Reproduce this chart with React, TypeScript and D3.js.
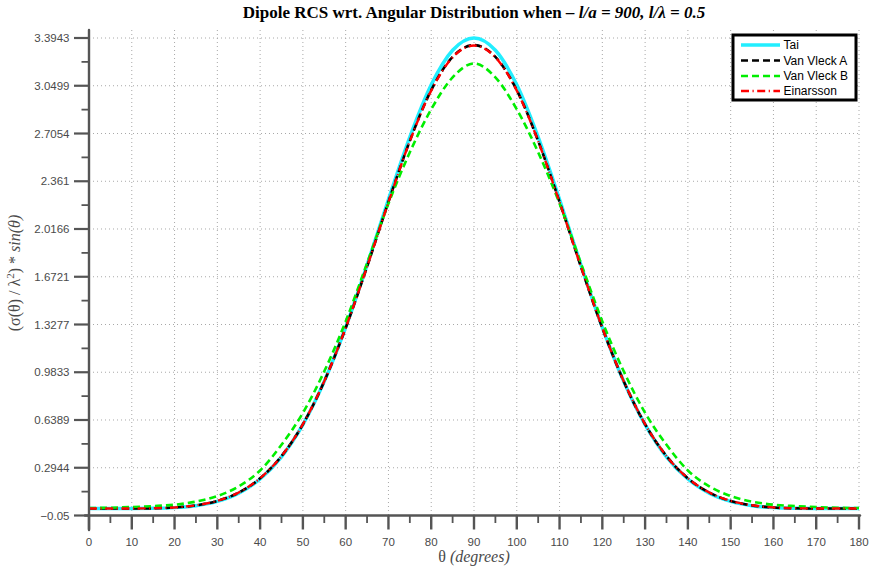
import React from "react";
import * as d3 from "d3";

// ---------- data ----------
const thetaDeg = [0, 5, 10, 15, 20, 25, 30, 35, 40, 45, 50, 55, 60, 65, 70, 75, 80, 85, 90, 95, 100, 105, 110, 115, 120, 125, 130, 135, 140, 145, 150, 155, 160, 165, 170, 175, 180];

const taiValues = [0, 0, 0.0002, 0.0016, 0.0068, 0.0208, 0.0517, 0.111, 0.213, 0.3732, 0.605, 0.9174, 1.3065, 1.7561, 2.2297, 2.6793, 3.0561, 3.3057, 3.3943, 3.3057, 3.0561, 2.6793, 2.2297, 1.7561, 1.3065, 0.9174, 0.605, 0.3732, 0.213, 0.111, 0.0517, 0.0208, 0.0068, 0.0016, 0.0002, 0, 0];

const vanVleckAValues = [0, 0, 0.0003, 0.002, 0.008, 0.023, 0.055, 0.115, 0.218, 0.378, 0.608, 0.918, 1.303, 1.745, 2.212, 2.652, 3.018, 3.258, 3.343, 3.258, 3.018, 2.652, 2.212, 1.745, 1.303, 0.918, 0.608, 0.378, 0.218, 0.115, 0.055, 0.023, 0.008, 0.002, 0.0003, 0, 0];

const vanVleckBValues = [0.004, 0.006, 0.011, 0.018, 0.028, 0.05, 0.09, 0.16, 0.275, 0.46, 0.69, 0.99, 1.35, 1.77, 2.2, 2.57, 2.88, 3.11, 3.211, 3.11, 2.88, 2.57, 2.2, 1.77, 1.35, 0.99, 0.69, 0.46, 0.275, 0.16, 0.09, 0.05, 0.028, 0.018, 0.011, 0.006, 0.004];

const einarssonValues = [0, 0, 0.0003, 0.0021, 0.0082, 0.0235, 0.0555, 0.116, 0.219, 0.379, 0.609, 0.919, 1.303, 1.744, 2.21, 2.65, 3.015, 3.255, 3.34, 3.255, 3.015, 2.65, 2.21, 1.744, 1.303, 0.919, 0.609, 0.379, 0.219, 0.116, 0.0555, 0.0235, 0.0082, 0.0021, 0.0003, 0, 0];

const yTickValues = [-0.05, 0.2944, 0.6389, 0.9833, 1.3277, 1.6721, 2.0166, 2.361, 2.7054, 3.0499, 3.3943];
const yTickLabels = ["\u22120.05", "0.2944", "0.6389", "0.9833", "1.3277", "1.6721", "2.0166", "2.361", "2.7054", "3.0499", "3.3943"];
const xTickValues = [0, 10, 20, 30, 40, 50, 60, 70, 80, 90, 100, 110, 120, 130, 140, 150, 160, 170, 180];

const seriesNames = ["Tai", "Van Vleck A", "Van Vleck B", "Einarsson"];

// ---------- layout / style ----------
const W = 871;
const H = 571;
const X0 = 89;
const X1 = 859;
const YBOT = 515.5;
const YTOP_DATA = 38;
const YTOP_AXIS = 30;
const AXIS_COLOR = "#555";
const TEXT_COLOR = "#4a4a4a";
const SANS = "'Liberation Sans', Arial, Helvetica, sans-serif";
const SERIF = "'Liberation Serif', 'Times New Roman', Times, serif";

const seriesStyles = [
  { color: "#22eeff", width: 3.5, dash: null as string | null },
  { color: "#000000", width: 2.6, dash: "7,4" },
  { color: "#00ee00", width: 2.6, dash: "7,4" },
  { color: "#ff0000", width: 2.4, dash: "8,3.5,1.2,3.5" },
];

export default function App() {
  const x = d3.scaleLinear().domain([0, 180]).range([X0, X1]);
  const y = d3.scaleLinear().domain([-0.05, 3.3943]).range([YBOT, YTOP_DATA]);

  const allSeries = [taiValues, vanVleckAValues, vanVleckBValues, einarssonValues];
  const line = d3
    .line<number>()
    .x((_, i) => x(thetaDeg[i]))
    .y((v) => y(v))
    .curve(d3.curveMonotoneX);

  const yMinor = yTickValues.slice(0, -1).map((v, i) => (v + yTickValues[i + 1]) / 2);
  const xMinor = xTickValues.slice(0, -1).map((v, i) => (v + xTickValues[i + 1]) / 2);

  const legX = 733;
  const legY = 35;
  const legW = 123;
  const legH = 65;
  const legRows = [45, 60.5, 76, 91];

  return (
    <svg
      width={W}
      height={H}
      viewBox={`0 0 ${W} ${H}`}
      style={{ position: "absolute", left: 0, top: 0, background: "#fff" }}
    >
      <rect x={0} y={0} width={W} height={H} fill="#fff" />

      {/* grid */}
      <g stroke="#a8a8a8" strokeWidth={1} strokeDasharray="1,3">
        {xTickValues.slice(1).map((t) => (
          <line key={"gx" + t} x1={x(t)} x2={x(t)} y1={YTOP_AXIS} y2={YBOT} />
        ))}
        {yTickValues.slice(1).map((t) => (
          <line key={"gy" + t} x1={X0} x2={X1} y1={y(t)} y2={y(t)} />
        ))}
      </g>

      {/* series */}
      <g fill="none" strokeLinejoin="round">
        {allSeries.map((vals, i) => (
          <path
            key={seriesNames[i]}
            d={line(vals) || ""}
            stroke={seriesStyles[i].color}
            strokeWidth={seriesStyles[i].width}
            strokeDasharray={seriesStyles[i].dash || undefined}
          />
        ))}
      </g>

      {/* axes */}
      <g stroke={AXIS_COLOR} strokeLinecap="round">
        <line x1={X0} x2={X0} y1={YTOP_AXIS} y2={530} strokeWidth={2.4} />
        <line x1={85} x2={X1 + 1} y1={YBOT} y2={YBOT} strokeWidth={2.4} />
        {yTickValues.map((t) => (
          <line key={"ty" + t} x1={X0 - 15} x2={X0} y1={y(t)} y2={y(t)} strokeWidth={2.2} strokeLinecap="butt" />
        ))}
        {yMinor.map((t, i) => (
          <line key={"tym" + i} x1={X0 - 7.5} x2={X0} y1={y(t)} y2={y(t)} strokeWidth={1.8} strokeLinecap="butt" />
        ))}
        {xTickValues.map((t) => (
          <line key={"tx" + t} x1={x(t)} x2={x(t)} y1={YBOT} y2={YBOT + 14} strokeWidth={2.4} strokeLinecap="butt" />
        ))}
        {xMinor.map((t, i) => (
          <line key={"txm" + i} x1={x(t)} x2={x(t)} y1={YBOT} y2={YBOT + 7.5} strokeWidth={1.8} strokeLinecap="butt" />
        ))}
      </g>

      {/* tick labels */}
      <g fontFamily={SANS} fontSize={11.5} fill={TEXT_COLOR}>
        {yTickValues.map((t, i) => (
          <text key={"ly" + t} x={69.5} y={y(t)} textAnchor="end" dominantBaseline="central">
            {yTickLabels[i]}
          </text>
        ))}
        {xTickValues.map((t) => (
          <text key={"lx" + t} x={x(t)} y={546} textAnchor="middle">
            {String(t)}
          </text>
        ))}
      </g>

      {/* title */}
      <text x={474} y={18} textAnchor="middle" fontFamily={SERIF} fontSize={17} fontWeight="bold" fill="#000">
        Dipole RCS wrt. Angular Distribution when <tspan fontStyle="italic">{"\u2013 l/a = 900, l/\u03bb = 0.5"}</tspan>
      </text>

      {/* x label */}
      <text x={474} y={562} textAnchor="middle" fontFamily={SERIF} fontSize={16} fill={TEXT_COLOR}>
        {"\u03b8 "}
        <tspan fontStyle="italic">(degrees)</tspan>
      </text>

      {/* y label */}
      <text
        transform={`translate(20, 273) rotate(-90)`}
        textAnchor="middle"
        fontFamily={SERIF}
        fontSize={16}
        fill={TEXT_COLOR}
      >
        {"(\u03c3(\u03b8) / \u03bb"}
        <tspan dy={-6} fontSize={11}>2</tspan>
        <tspan dy={6}>{") * "}</tspan>
        <tspan fontStyle="italic">{"sin(\u03b8)"}</tspan>
      </text>

      {/* legend */}
      <rect x={legX} y={legY} width={legW} height={legH} fill="#fff" stroke="#000" strokeWidth={3} />
      {seriesNames.map((name, i) => (
        <g key={"leg" + name}>
          <line
            x1={741}
            x2={780}
            y1={legRows[i]}
            y2={legRows[i]}
            stroke={seriesStyles[i].color}
            strokeWidth={seriesStyles[i].width}
            strokeDasharray={seriesStyles[i].dash || undefined}
          />
          <text x={783.5} y={legRows[i]} dominantBaseline="central" fontFamily={SANS} fontSize={12} fill="#000">
            {name}
          </text>
        </g>
      ))}
    </svg>
  );
}
